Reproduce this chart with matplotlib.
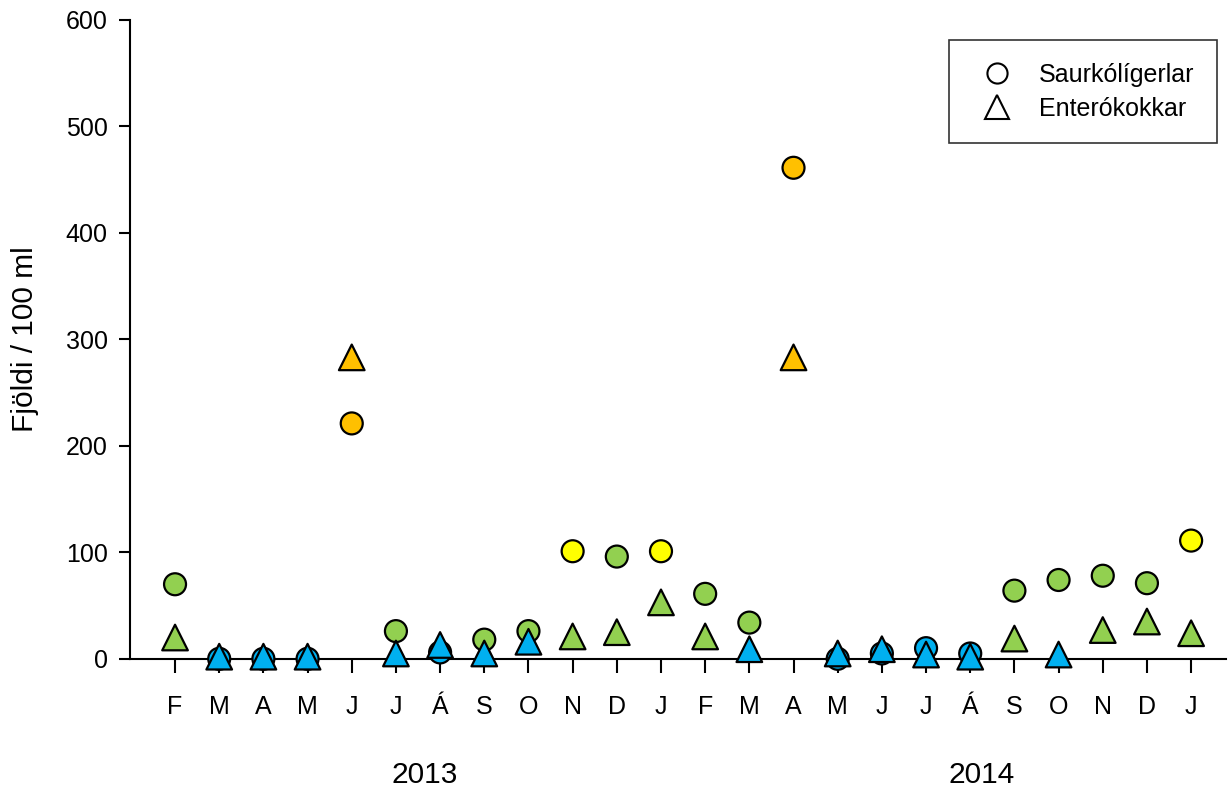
import numpy as np
import matplotlib.pyplot as plt
from matplotlib.lines import Line2D

plt.rcParams['font.family'] = ['Liberation Sans', 'DejaVu Sans']

# months, Feb 2013 - Jan 2015
months = ["F", "M", "A", "M", "J", "J", "Á", "S", "O", "N", "D", "J",
          "F", "M", "A", "M", "J", "J", "Á", "S", "O", "N", "D", "J"]
years = ["2013", "2014"]

# Saurkólígerlar (circles)
kol = [70, 0, 0, 0, 221, 26, 6, 18, 26, 101, 96, 101,
       61, 34, 461, 0, 5, 10, 5, 64, 74, 78, 71, 111]
kol_class = ["g", "b", "b", "b", "o", "g", "b", "g", "g", "y", "g", "y",
             "g", "g", "o", "b", "b", "b", "b", "g", "g", "g", "g", "y"]

# Enterókokkar (triangles)
ent = [20, 2, 2, 2, 283, 5, 13, 5, 16, 21, 25, 53,
       21, 9, 283, 5, 9, 4, 2, 19, 4, 27, 35, 24]
ent_class = ["g", "b", "b", "b", "o", "b", "b", "b", "b", "g", "g", "g",
             "g", "b", "o", "b", "b", "b", "b", "g", "b", "g", "g", "g"]

colors = {"b": "#00B0F0", "g": "#92D050", "y": "#FFFF00", "o": "#FFC000"}

x = np.arange(len(months))

fig = plt.figure(figsize=(12.32, 7.89), dpi=100)
ax = fig.add_axes([0.1055, 0.165, 0.89, 0.81])

ax.scatter(x, kol, s=250, marker="o", c=[colors[k] for k in kol_class],
           edgecolors="black", linewidths=1.6, zorder=3, clip_on=False)
ax.scatter(x, ent, s=340, marker="^", c=[colors[k] for k in ent_class],
           edgecolors="black", linewidths=1.6, zorder=4, clip_on=False)

ax.set_xlim(-1.02, 23.8)
ax.set_ylim(0, 600)
ax.set_yticks(np.arange(0, 601, 100))
ax.set_xticks(x)
ax.set_xticklabels(months)
ax.tick_params(axis="both", direction="out", width=1.5,
               labelsize=18, colors="black")
ax.tick_params(axis="x", length=10, pad=16)
ax.tick_params(axis="y", length=8, pad=8)
for s in ["top", "right"]:
    ax.spines[s].set_visible(False)
for s in ["left", "bottom"]:
    ax.spines[s].set_linewidth(1.5)

ax.set_ylabel("Fjöldi / 100 ml", fontsize=21.5, labelpad=19)

ax.text(5.66, -109, years[0], ha="center", va="center", fontsize=21.5)
ax.text(18.26, -109, years[1], ha="center", va="center", fontsize=21.5)

handles = [
    Line2D([], [], marker="o", linestyle="none", markersize=14.5,
           markerfacecolor="white", markeredgecolor="black", markeredgewidth=1.5),
    Line2D([], [], marker="^", linestyle="none", markersize=17,
           markerfacecolor="white", markeredgecolor="black", markeredgewidth=1.5),
]
leg = ax.legend(handles, ["Saurkólígerlar", "Enterókokkar"], loc="upper right",
                bbox_to_anchor=(0.988, 0.949), bbox_transform=fig.transFigure,
                borderaxespad=0, fontsize=18, frameon=True,
                fancybox=False, edgecolor="black", borderpad=0.9,
                handletextpad=0.7, labelspacing=0.4)
leg.get_frame().set_linewidth(1.2)

fig.savefig("out.png", dpi=100)
